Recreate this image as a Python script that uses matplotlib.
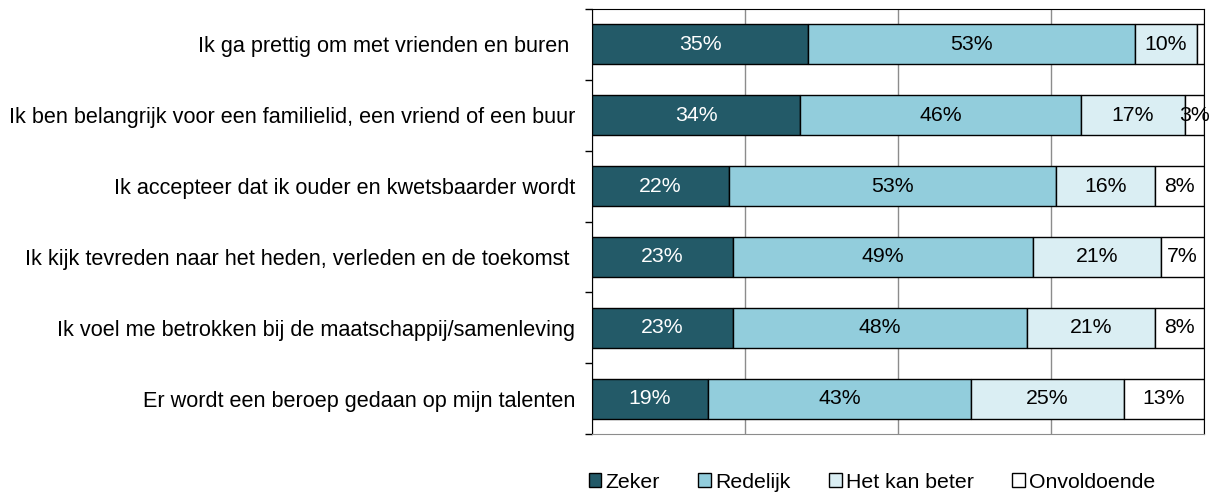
import numpy as np
import matplotlib.pyplot as plt
from matplotlib.patches import Patch

plt.rcParams['font.family'] = ['Liberation Sans', 'DejaVu Sans']

vragen = ['Ik ga prettig om met vrienden en buren ',
          'Ik ben belangrijk voor een familielid, een vriend of een buur',
          'Ik accepteer dat ik ouder en kwetsbaarder wordt',
          'Ik kijk tevreden naar het heden, verleden en de toekomst ',
          'Ik voel me betrokken bij de maatschappij/samenleving',
          'Er wordt een beroep gedaan op mijn talenten']
reeksen = ['Zeker', 'Redelijk', 'Het kan beter', 'Onvoldoende']
zeker = [35.3, 34.0, 22.4, 23.0, 23.0, 19.0]
redelijk = [53.4, 45.9, 53.4, 49.1, 48.1, 42.9]
kan_beter = [10.2, 17.0, 16.2, 20.9, 20.9, 25.0]
onvoldoende = [1.1, 3.1, 8.0, 7.0, 8.0, 13.1]

kleuren = ['#235a68', '#92cddc', '#daeef3', '#ffffff']
tekstkleur = ['white', 'black', 'black', 'black']
fs = 15.3

fig = plt.figure(figsize=(12.16, 4.93), dpi=100)
ax = fig.add_axes([0.4868, 0.1197, 0.5033, 0.862])

y = np.arange(len(vragen))
links = np.zeros(len(vragen))
for waarden, kleur, tk in zip([zeker, redelijk, kan_beter, onvoldoende], kleuren, tekstkleur):
    w = np.array(waarden)
    ax.barh(y, w, left=links, height=0.565, color=kleur, edgecolor='black',
            linewidth=1, zorder=3)
    for yi, l, v in zip(y, links, w):
        if v >= 1.5:
            ax.text(l + v / 2, yi, f'{round(v)}%', ha='center', va='center',
                    color=tk, fontsize=fs, zorder=4)
    links = links + w

ax.set_xlim(0, 100)
ax.set_ylim(5.5, -0.5)
ax.set_xticks([0, 25, 50, 75, 100])
ax.set_xticklabels([])
ax.tick_params(axis='x', length=0)
ax.grid(axis='x', color='#8c8c8c', linewidth=1, zorder=0)

ax.set_yticks(y)
ax.set_yticklabels(vragen, fontsize=15.6)
ax.tick_params(axis='y', which='major', length=0, pad=12)
ax.set_yticks(np.arange(-0.5, 6.0, 1), minor=True)
ax.tick_params(axis='y', which='minor', length=5, width=1, direction='out')

ax.spines['left'].set_color('black')
ax.spines['top'].set_color('black')
ax.spines['right'].set_color('black')
ax.spines['bottom'].set_color('#8c8c8c')

handles = [Patch(facecolor=k, edgecolor='black', linewidth=1) for k in kleuren]
fig.legend(handles, reeksen, loc='center', bbox_to_anchor=(0.717, 0.022),
           ncol=4, frameon=False, fontsize=fs, handlelength=0.6, handleheight=0.6,
           handletextpad=0.2, columnspacing=1.8, borderpad=0)

plt.savefig('out.png', dpi=100)
